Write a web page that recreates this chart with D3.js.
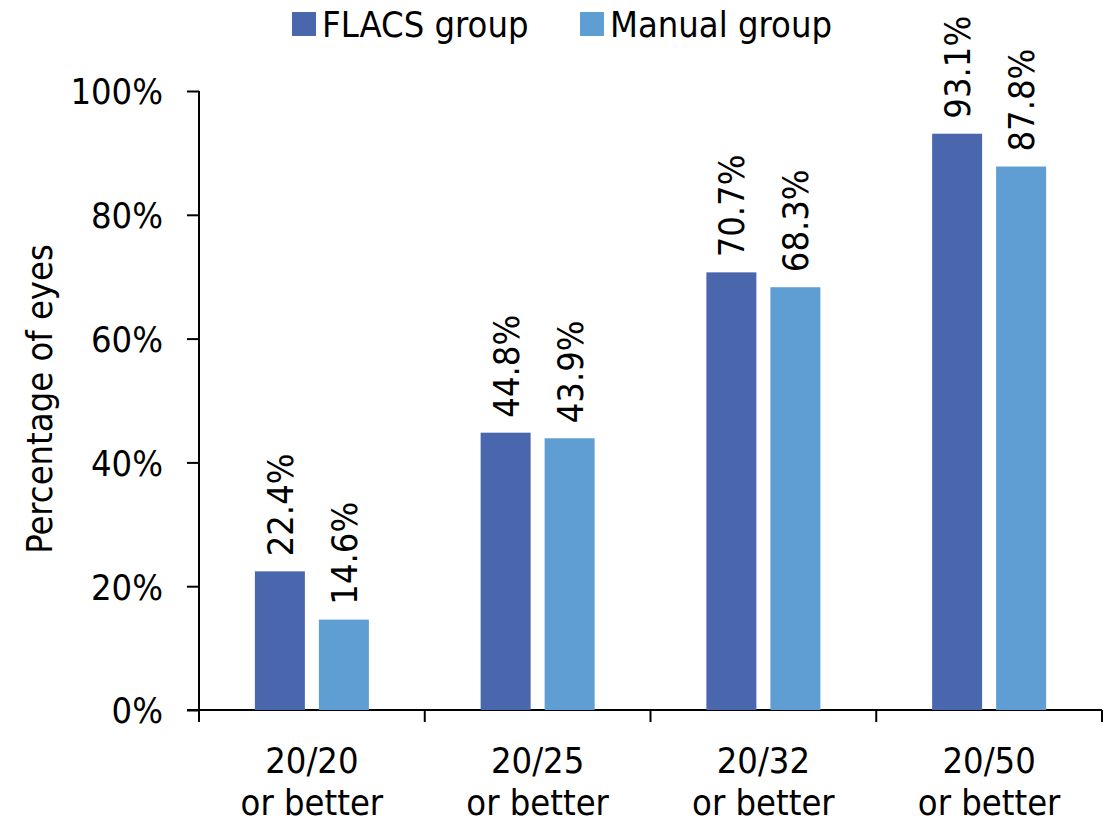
<!DOCTYPE html>
<html><head><meta charset="utf-8">
<script src="https://cdn.jsdelivr.net/npm/d3@7/dist/d3.min.js"></script>
<style>
body{margin:0;background:#fff;}
text{font-family:"DejaVu Sans Condensed","DejaVu Sans",sans-serif;fill:#000;}
</style></head>
<body><svg id="c" width="1112" height="822"></svg>
<script>
const categories = ["20/20 or better","20/25 or better","20/32 or better","20/50 or better"];
const seriesNames = ["FLACS group","Manual group"];
const flacs = [22.4, 44.8, 70.7, 93.1];
const manual = [14.6, 43.9, 68.3, 87.8];
const yTicks = [0,20,40,60,80,100];
const colors = ["#4a66ac","#5f9ed2"];

const svg = d3.select("#c");
const pL = 199, pR = 1102, pT = 91, pB = 710;
const x = d3.scaleBand().domain(categories).range([pL, pR]);
const y = d3.scaleLinear().domain([0,100]).range([pB, pT]);
const barW = 50, gap = 14;
const series = [flacs, manual];
const groupW = barW*2+gap;

// axes
const yAxis = d3.axisLeft(y).tickValues(yTicks).tickSize(12).tickFormat(d=>d+"%");
const gy = svg.append("g").attr("transform",`translate(${pL},0)`).call(yAxis);
gy.select(".domain").remove();
gy.append("line").attr("x1",0).attr("x2",0).attr("y1",pT).attr("y2",pB+12).attr("stroke","#000").attr("stroke-width",2);
gy.selectAll(".tick line").attr("stroke","#000").attr("stroke-width",2);
gy.selectAll(".tick text").attr("font-size",36).attr("x",-36).attr("dy","0.36em").style("font-family",'"DejaVu Sans Condensed","DejaVu Sans",sans-serif');

const gx = svg.append("g");
gx.append("line").attr("x1",pL-12).attr("x2",pR).attr("y1",pB).attr("y2",pB).attr("stroke","#000").attr("stroke-width",2);
const bounds = categories.map(c=>x(c)).concat([x(categories[categories.length-1])+x.bandwidth()]);
gx.selectAll("line.tk").data(bounds).enter().append("line").attr("class","tk")
  .attr("x1",d=>d).attr("x2",d=>d).attr("y1",pB).attr("y2",pB+12).attr("stroke","#000").attr("stroke-width",2);
categories.forEach(c=>{
  const parts = c.split(" ");
  const t = gx.append("text").attr("text-anchor","middle").attr("font-size",36)
    .attr("x", x(c)+x.bandwidth()/2).attr("y", 773);
  t.append("tspan").attr("x", x(c)+x.bandwidth()/2).text(parts[0]);
  t.append("tspan").attr("x", x(c)+x.bandwidth()/2).attr("dy",42).text(parts.slice(1).join(" "));
});

// bars
series.forEach((vals,si)=>{
  const g = svg.append("g");
  g.selectAll("rect").data(vals).enter().append("rect")
    .attr("x",(d,i)=>x(categories[i])+(x.bandwidth()-groupW)/2+si*(barW+gap))
    .attr("width",barW)
    .attr("y",d=>y(d)).attr("height",d=>pB-y(d))
    .attr("fill",colors[si]);
  g.selectAll("text").data(vals).enter().append("text")
    .attr("font-size",36).attr("dy","0.36em")
    .attr("transform",(d,i)=>{
      const cx = x(categories[i])+(x.bandwidth()-groupW)/2+si*(barW+gap)+barW/2;
      return `translate(${cx},${y(d)-15}) rotate(-90)`;
    })
    .text(d=>d.toFixed(1)+"%");
});

// axis title
svg.append("text").attr("font-size",36).attr("text-anchor","middle")
  .attr("transform","translate(39,399) rotate(-90)").attr("dy","0.36em").text("Percentage of eyes");

// legend
const leg = [{x:292, tx:322},{x:580, tx:610}];
seriesNames.forEach((n,i)=>{
  svg.append("rect").attr("x",leg[i].x).attr("y",12).attr("width",24).attr("height",24).attr("fill",colors[i]);
  svg.append("text").attr("x",leg[i].tx).attr("y",24).attr("dy","0.36em").attr("font-size",36).text(n);
});
</script></body></html>
